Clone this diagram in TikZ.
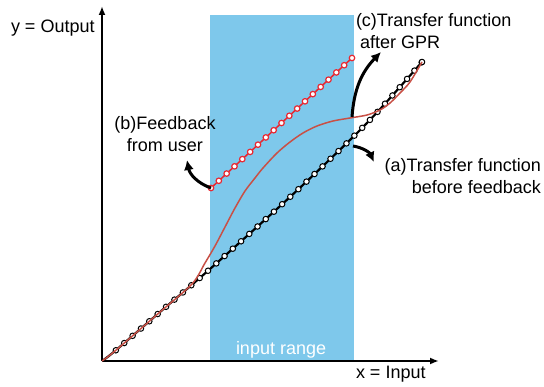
\documentclass[tikz,border=0pt]{standalone}
\usepackage{fontspec}
\setmainfont{Liberation Sans}
\usetikzlibrary{arrows.meta,decorations.markings,calc}
\definecolor{bandblue}{RGB}{126,200,235}
\definecolor{gprred}{RGB}{200,80,70}
\definecolor{fbred}{RGB}{232,40,50}
\begin{document}
\begin{tikzpicture}[x=1pt,y=1pt,
  lbl/.style={font=\fontsize{18}{22}\selectfont, inner sep=0pt, outer sep=0pt},
  axisline/.style={line width=2pt, -{Latex[length=9pt,width=7pt]}},
  callout/.style={line width=3pt, -{Latex[length=10pt,width=10pt]}},
  bdot/.style={circle, draw=black, fill=white, line width=1pt, minimum size=5.5pt, inner sep=0pt},
  rdot/.style={circle, draw=fbred, fill=white, line width=1.2pt, minimum size=5.5pt, inner sep=0pt},
  blackcurve/.style={line width=2.2pt, black},
  gprcurve/.style={line width=1.5pt, gprred},
  fbline/.style={line width=1.5pt, fbred},
]
\useasboundingbox (0,0) rectangle (544,386);
% input range band
\fill[bandblue] (210,25) rectangle (354,371);
\node[lbl, text=white, anchor=base west] (range) at (236,31) {input range};

% axes
\coordinate (O) at (102,25);
\coordinate (xEnd) at (439,25);
\coordinate (yEnd) at (102,380);
\draw[axisline] (O) -- (xEnd);
\draw[axisline] (O) -- (yEnd);
\node[lbl, anchor=base west] (ylab) at (11,353) {y = Output};
\node[lbl, anchor=base west] (xlab) at (356,8) {x = Input};

% (a) transfer function before feedback
\draw[blackcurve, decoration={markings,
    mark=between positions 0.04 and 0.9995 step 0.025237 with {\node[bdot] {};}},
    postaction={decorate}]
  plot[smooth, tension=0.5] coordinates {(102,25) (115,35) (160,74) (210,117) (290,189) (352,248) (382,279) (422,324)};
\node[bdot] (bEnd) at (422,324) {};

% (c) transfer function after GPR
\draw[gprcurve] plot[smooth, tension=0.5] coordinates {(102,25) (115,35) (160,74) (192,102) (205,123) (215,140) (225,159) (235,178) (245,195) (255,208) (263,218) (277,233) (290,244) (303,253) (317,260) (333,265) (350,268) (367,271) (380,276) (390,283) (400,293) (410,304) (422,324)};

% (b) feedback from user
\coordinate (fbA) at (211,198);
\coordinate (fbB) at (352,328);
\draw[fbline] (fbA) -- (fbB);
\foreach \i in {0,...,18} {
  \node[rdot] (fb\i) at ($(fbA)!\i/18!(fbB)$) {};
}

% callout arrows
\coordinate (bTip) at (187,226);
\draw[callout] (fbA) to[bend left=30] (bTip);
\coordinate (cStart) at (352,269);
\coordinate (cTip) at (381,334);
\draw[callout] (cStart) to[bend left=20] (cTip);
\coordinate (aStart) at (353,240);
\coordinate (aTip) at (374,224);
\draw[callout] (aStart) to[bend left=28] (aTip);

% labels
\node[lbl, align=center] (blab) at (165,252) {(b)Feedback\\from user};
\node[lbl, align=left, anchor=west] (clab) at (356,355) {(c)Transfer function\\\hspace*{4pt}after GPR};
\node[lbl, align=right, anchor=east] (alab) at (541,210) {(a)Transfer function\\before feedback};
\end{tikzpicture}
\end{document}
